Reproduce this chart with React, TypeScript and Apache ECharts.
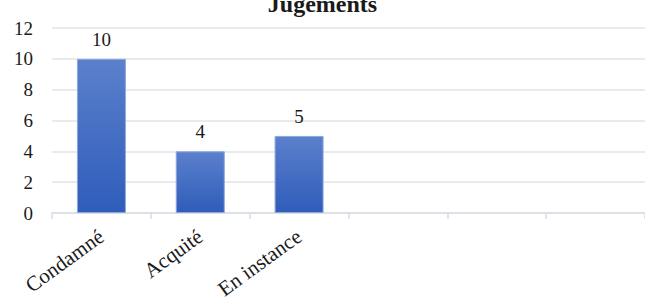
import React, { useEffect, useRef } from "react";
import * as echarts from "echarts";

const categories = ["Condamné", "Acquité", "En instance", "", "", ""];
const values: (number | null)[] = [10, 4, 5, null, null, null];
const yTicks = { min: 0, max: 12, interval: 2 };
const title = "Jugements";

const FONT = "'Liberation Serif', 'Times New Roman', serif";

export default function App() {
  const ref = useRef<HTMLDivElement>(null);
  useEffect(() => {
    if (!ref.current) return;
    const chart = echarts.init(ref.current, undefined, { renderer: "svg" });
    chart.setOption({
      animation: false,
      backgroundColor: "#ffffff",
      title: {
        text: title,
        left: "center",
        top: -13,
        textStyle: { fontFamily: FONT, fontSize: 24, fontWeight: "bold", color: "#1a1a1a" },
      },
      grid: { left: 52, top: 28, width: 597, height: 185, containLabel: false },
      xAxis: {
        type: "category",
        data: categories,
        axisLine: { show: true, lineStyle: { color: "#d9dde5", width: 1.5 } },
        axisTick: { show: true, alignWithLabel: false, length: 6, lineStyle: { color: "#d9dde5", width: 1.5 } },
        axisLabel: {
          interval: 0,
          rotate: 36,
          margin: 21,
          fontFamily: FONT,
          fontSize: 21,
          color: "#1a1a1a",
        },
        splitLine: { show: false },
      },
      yAxis: {
        type: "value",
        min: yTicks.min,
        max: yTicks.max,
        interval: yTicks.interval,
        axisLine: { show: false },
        axisTick: { show: false },
        axisLabel: { margin: 19, fontFamily: FONT, fontSize: 19, color: "#1a1a1a" },
        splitLine: { show: true, lineStyle: { color: "#dfe3ea", width: 1.5 } },
      },
      series: [
        {
          type: "bar",
          data: values,
          barWidth: 49,
          itemStyle: {
            color: new echarts.graphic.LinearGradient(0, 0, 0, 1, [
              { offset: 0, color: "#5b80cc" },
              { offset: 1, color: "#2f5dba" },
            ]),
            borderColor: "#8ea6da",
            borderWidth: 1,
          },
          label: {
            show: true,
            position: "top",
            distance: 10,
            fontFamily: FONT,
            fontSize: 19,
            color: "#1a1a1a",
          },
        },
      ],
    });
    return () => chart.dispose();
  }, []);
  return (
    <div
      ref={ref}
      style={{ position: "fixed", left: 0, top: 0, width: 645, height: 306 }}
    />
  );
}
